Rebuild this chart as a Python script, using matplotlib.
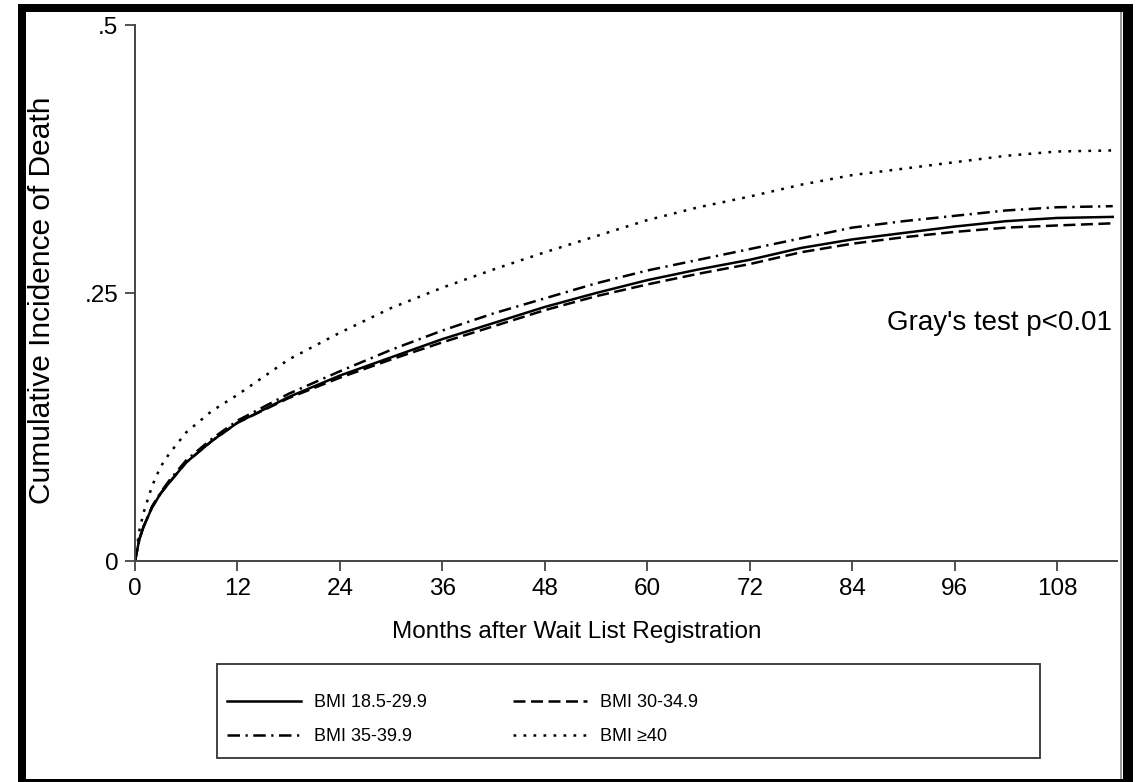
"""Cumulative incidence of death by BMI group (wait list)."""
import matplotlib
matplotlib.use('Agg')
import matplotlib.pyplot as plt
from matplotlib.patches import Rectangle

plt.rcParams['font.family'] = ['Liberation Sans', 'DejaVu Sans']

W, H = 1140, 782

# Datos
months = [0, 0.5, 1, 2, 3, 4, 6, 9, 12, 18, 24, 30, 36, 42, 48, 54, 60,
          66, 72, 78, 84, 90, 96, 102, 108, 114.5]
bmi_18 = [0, 0.020, 0.032, 0.050, 0.063, 0.073, 0.092, 0.112, 0.129, 0.153,
          0.173, 0.190, 0.207, 0.222, 0.237, 0.250, 0.262, 0.272, 0.281,
          0.292, 0.300, 0.306, 0.312, 0.317, 0.320, 0.321]
bmi_30 = [0, 0.020, 0.032, 0.050, 0.063, 0.073, 0.092, 0.112, 0.129, 0.152,
          0.171, 0.188, 0.204, 0.219, 0.234, 0.247, 0.258, 0.268, 0.277,
          0.288, 0.296, 0.302, 0.307, 0.311, 0.313, 0.315]
bmi_35 = [0, 0.020, 0.032, 0.051, 0.064, 0.075, 0.094, 0.114, 0.131, 0.156,
          0.177, 0.197, 0.215, 0.231, 0.245, 0.259, 0.271, 0.281, 0.291,
          0.301, 0.311, 0.317, 0.322, 0.327, 0.330, 0.331]
bmi_40 = [0, 0.028, 0.045, 0.070, 0.088, 0.100, 0.120, 0.140, 0.155, 0.188,
          0.213, 0.236, 0.255, 0.272, 0.288, 0.303, 0.318, 0.330, 0.340,
          0.351, 0.360, 0.366, 0.372, 0.378, 0.382, 0.383]

xticks = [0, 12, 24, 36, 48, 60, 72, 84, 96, 108]
yticks = [0, 0.25, 0.5]
ytick_labels = ['0', '.25', '.5']


def px_rect(fig, x0, y0, x1, y1, **kw):
    fig.add_artist(Rectangle((x0 / W, 1 - y1 / H), (x1 - x0) / W,
                             (y1 - y0) / H, transform=fig.transFigure, **kw))


fig = plt.figure(figsize=(W / 100, H / 100), dpi=100)
ax = fig.add_axes([135 / W, 1 - 561 / H, 982 / W, 536 / H])

lw = 1.8
l18, = ax.plot(months, bmi_18, color='black', lw=lw, linestyle='-',
               label='BMI 18.5-29.9')
l30, = ax.plot(months, bmi_30, color='black', lw=lw,
               linestyle=(0, (4.8, 2.2)), label='BMI 30-34.9')
l35, = ax.plot(months, bmi_35, color='black', lw=lw,
               linestyle=(0, (5.0, 2.2, 0.9, 2.2)), label='BMI 35-39.9')
l40, = ax.plot(months, bmi_40, color='black', lw=lw,
               linestyle=(0, (1.1, 2.9)), label='BMI ≥40')

ax.set_xlim(0, 115)
ax.set_ylim(0, 0.5)
ax.set_xticks(xticks)
ax.set_yticks(yticks)
ax.set_yticklabels(ytick_labels)
for s in ('top', 'right'):
    ax.spines[s].set_visible(False)
for s in ('left', 'bottom'):
    ax.spines[s].set_color('#444444')
    ax.spines[s].set_linewidth(1.4)
ax.tick_params(axis='both', direction='out', length=7, width=1.3,
               color='#444444', labelsize=17.5, pad=5)

ax.set_xlabel('Months after Wait List Registration', fontsize=17.5,
              va='center')
ax.xaxis.set_label_coords(0.45, -0.1325)
ax.set_ylabel('Cumulative Incidence of Death', fontsize=21.5, va='center')
ax.yaxis.set_label_coords(-0.0947, 0.487)

ax.text(114.4, 0.222, "Gray's test p<0.01", fontsize=20,
        ha='right', va='center')

# Leyenda (marco aparte)
px_rect(fig, 217, 664, 1040, 758, fill=False, edgecolor='#333333', lw=1.3)
fig.legend([l18, l35, l30, l40],
           [l18.get_label(), l35.get_label(), l30.get_label(),
            l40.get_label()],
           ncol=2, loc='upper left', bbox_to_anchor=(227 / W, 1 - 694 / H),
           frameon=False, fontsize=13, borderpad=0, borderaxespad=0,
           handlelength=4.1, handletextpad=0.7, columnspacing=4.8,
           labelspacing=0.95)

# Borde grueso de la figura
px_rect(fig, 18, 4, 26, 782, color='black', lw=0)
px_rect(fig, 18, 4, 1133, 12, color='black', lw=0)
px_rect(fig, 1123, 4, 1133, 782, color='black', lw=0)
px_rect(fig, 18, 779, 1133, 782, color='black', lw=0)
px_rect(fig, 1120, 12, 1122, 779, color='#999999', lw=0)

fig.savefig('out.png', dpi=100)
